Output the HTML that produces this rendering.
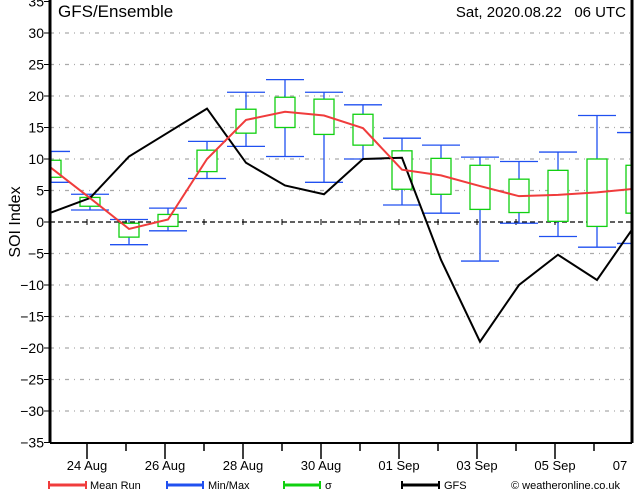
<!DOCTYPE html>
<html><head><meta charset="utf-8"><style>
body{margin:0;background:#fff;}
svg{display:block;font-family:"Liberation Sans","DejaVu Sans",sans-serif;}
</style></head><body>
<svg id="chart" width="634" height="490" viewBox="0 0 634 490">
<defs><clipPath id="pc"><rect x="50" y="0" width="582" height="443"/></clipPath></defs>
<g id="grid"></g>
<g id="yaxis"></g>
<g id="xaxis"></g>
<g id="series" clip-path="url(#pc)"></g>
<line x1="50" y1="0" x2="50" y2="443" stroke="#000" stroke-width="3"/>
<line x1="632" y1="0" x2="632" y2="443" stroke="#000" stroke-width="3"/>
<line x1="50" y1="443" x2="632" y2="443" stroke="#000" stroke-width="2"/>
<text x="58" y="17" font-size="17">GFS/Ensemble</text>
<text x="626" y="17" font-size="15" text-anchor="end">Sat, 2020.08.22&#160;&#160;&#160;06 UTC</text>
<text x="20" y="222" font-size="16" text-anchor="middle" transform="rotate(-90 20 222)">SOI Index</text>
<g id="legend">
<g><line x1="49" y1="485" x2="86" y2="485" stroke="#f03c3c" stroke-width="3"/><line x1="49" y1="481" x2="49" y2="489" stroke="#f03c3c" stroke-width="2"/><line x1="86" y1="481" x2="86" y2="489" stroke="#f03c3c" stroke-width="2"/><text x="90" y="489" font-size="11">Mean Run</text></g>
<g><line x1="167" y1="485" x2="203" y2="485" stroke="#2050f0" stroke-width="3"/><line x1="167" y1="481" x2="167" y2="489" stroke="#2050f0" stroke-width="2"/><line x1="203" y1="481" x2="203" y2="489" stroke="#2050f0" stroke-width="2"/><text x="208" y="489" font-size="11">Min/Max</text></g>
<g><line x1="284" y1="485" x2="320" y2="485" stroke="#10d010" stroke-width="3"/><line x1="284" y1="481" x2="284" y2="489" stroke="#10d010" stroke-width="2"/><line x1="320" y1="481" x2="320" y2="489" stroke="#10d010" stroke-width="2"/><text x="325" y="489" font-size="11">σ</text></g>
<g><line x1="402" y1="485" x2="439" y2="485" stroke="#000" stroke-width="3"/><line x1="402" y1="481" x2="402" y2="489" stroke="#000" stroke-width="2"/><line x1="439" y1="481" x2="439" y2="489" stroke="#000" stroke-width="2"/><text x="444" y="489" font-size="11">GFS</text></g>
<text x="511" y="489" font-size="11">© weatheronline.co.uk</text>
</g>
</svg>
<script>
const yTicks=[35,30,25,20,15,10,5,0,-5,-10,-15,-20,-25,-30,-35];
const xLabels=["24 Aug","26 Aug","28 Aug","30 Aug","01 Sep","03 Sep","05 Sep","07"];
const meanRun=[8.6,3.8,-1.1,0.4,10.0,16.2,17.5,16.9,14.9,8.3,7.4,5.7,4.1,4.3,4.7,5.3];
const sigmaHigh=[9.8,3.9,-0.2,1.2,11.4,17.9,19.8,19.5,17.1,11.3,10.1,9.0,6.8,8.2,10.0,9.0];
const sigmaLow=[7.1,2.5,-2.4,-0.7,8.0,14.1,15.0,13.9,12.2,5.2,4.4,2.0,1.5,0.1,-0.7,1.4];
const maxVals=[11.2,4.4,0.4,2.2,12.8,20.6,22.6,20.6,18.6,13.3,12.2,10.3,9.6,11.1,16.9,14.2];
const minVals=[6.3,1.9,-3.6,-1.4,6.9,12.0,10.4,6.3,10.0,2.7,1.4,-6.2,-0.2,-2.3,-4.0,-3.4];
const gfs=[1.5,3.8,10.4,14.2,18.0,9.4,5.8,4.4,10.0,10.2,-6.0,-19.0,-10.0,-5.2,-9.2,-0.3];
const NS="http://www.w3.org/2000/svg";
const Y=v=>222-v*6.3;
const X=i=>51+39*i;
const DX=d=>87+39*d;
function mk(tag,attrs,parent){const e=document.createElementNS(NS,tag);for(const k in attrs)e.setAttribute(k,attrs[k]);parent.appendChild(e);return e;}
const grid=document.getElementById('grid'),ya=document.getElementById('yaxis'),xa=document.getElementById('xaxis'),se=document.getElementById('series');
yTicks.forEach(v=>{
  if(v!==0&&v!==35&&v!==-35){const g=mk('line',{x1:50,x2:632,y1:Y(v),y2:Y(v),stroke:'#aaa','stroke-width':1.3,'stroke-dasharray':'4,5,1,5'},grid);
  
  }
  const t=mk('text',{x:44,y:Y(v)+5,'font-size':14,'text-anchor':'end'},ya);
  t.textContent=(v<0?'\u2212':'')+Math.abs(v);
  
  
  mk('line',{x1:44,x2:50,y1:Y(v),y2:Y(v),stroke:'#000','stroke-width':1},ya);
});
const z=mk('line',{x1:50,x2:632,y1:Y(0),y2:Y(0),stroke:'#000','stroke-width':1.3,'stroke-dasharray':'5,3'},grid);


for(let d=-1;d<=14;d++){const x=DX(d);if(x<52)continue;const major=d%2===0;
  if(x<=631){
    mk('line',{x1:x,x2:x,y1:443,y2:major?459:451,stroke:'#000','stroke-width':1.5},xa);
    mk('line',{x1:x,x2:x,y1:Y(0)-3,y2:Y(0)+3,stroke:'#000','stroke-width':1},xa);
  }
  if(major){const t=mk('text',{x:d===14?x-13:x,y:470,'font-size':13,'text-anchor':'middle'},xa);t.textContent=xLabels[d/2];
  
  }
}
meanRun.forEach((m,i)=>{
  const x=X(i);
  const g=mk('g',{},se);
  
  
  mk('line',{x1:x,x2:x,y1:Y(maxVals[i]),y2:Y(minVals[i]),stroke:'#2050f0','stroke-width':1.3},g);
  mk('line',{x1:x-19,x2:x+19,y1:Y(maxVals[i]),y2:Y(maxVals[i]),stroke:'#2050f0','stroke-width':1.3},g);
  mk('line',{x1:x-19,x2:x+19,y1:Y(minVals[i]),y2:Y(minVals[i]),stroke:'#2050f0','stroke-width':1.3},g);
  mk('rect',{x:x-10,y:Y(sigmaHigh[i]),width:20,height:Y(sigmaLow[i])-Y(sigmaHigh[i]),fill:'#fff',stroke:'#10d010','stroke-width':1.3},g);
});
const gl=mk('polyline',{points:gfs.map((v,i)=>X(i)+','+Y(v)).join(' '),fill:'none',stroke:'#000','stroke-width':2},se);


const ml=mk('polyline',{points:meanRun.map((v,i)=>X(i)+','+Y(v)).join(' '),fill:'none',stroke:'#f03c3c','stroke-width':2},se);


</script>
</body></html>
